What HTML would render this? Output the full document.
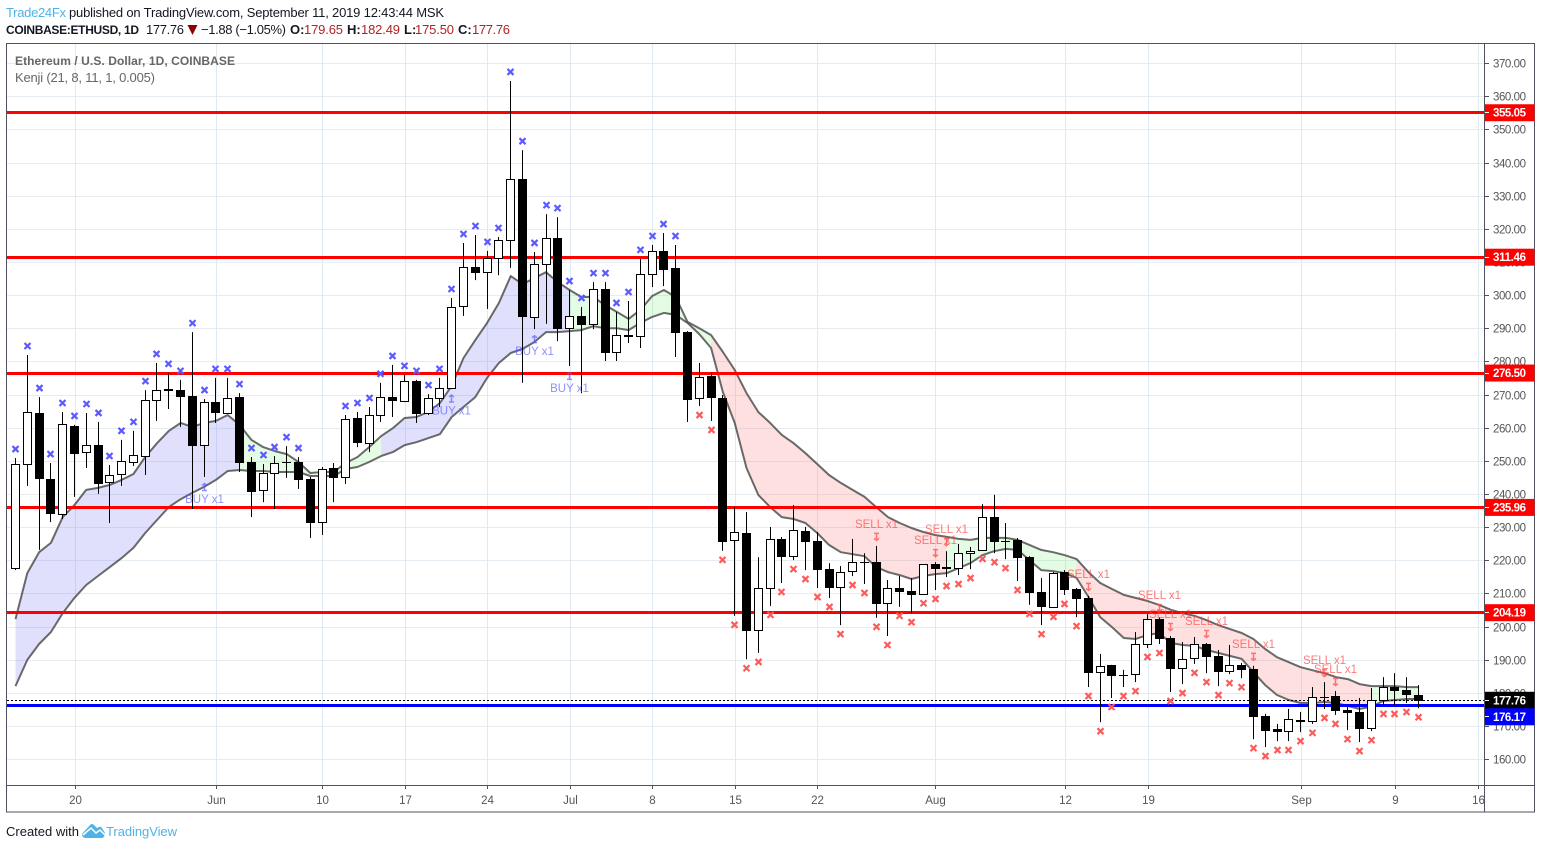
<!DOCTYPE html>
<html lang="en">
<head>
<meta charset="utf-8">
<title>ETHUSD chart</title>
<style>
html,body{margin:0;padding:0;background:#fff;width:1541px;height:849px;overflow:hidden}
svg{display:block;font-family:"Liberation Sans",sans-serif}
</style>
</head>
<body>
<svg id="chart" width="1541" height="849" viewBox="0 0 1541 849" xmlns="http://www.w3.org/2000/svg">
  <rect x="0" y="0" width="1541" height="849" fill="#fff"/>
  <g font-size="13" fill="#131722">
    <text x="6" y="17" fill="#4fb3e6" textLength="60">Trade24Fx</text>
    <text x="69" y="17" textLength="375">published on TradingView.com, September 11, 2019 12:43:44 MSK</text>
  </g>
  <g font-size="13" fill="#131722">
    <text x="6" y="34" font-size="12" font-weight="bold" textLength="133">COINBASE:ETHUSD, 1D</text>
    <text x="146" y="34" textLength="38">177.76</text>
    <polygon points="187.5,25 197.5,25 192.5,35" fill="#8b0000"/>
    <text x="201" y="34" textLength="85">−1.88 (−1.05%)</text>
    <text x="290" y="34" font-weight="bold">O:</text>
    <text x="304" y="34" fill="#b22222" textLength="39">179.65</text>
    <text x="347" y="34" font-weight="bold">H:</text>
    <text x="361" y="34" fill="#b22222" textLength="39">182.49</text>
    <text x="404" y="34" font-weight="bold">L:</text>
    <text x="415" y="34" fill="#b22222" textLength="39">175.50</text>
    <text x="458" y="34" font-weight="bold">C:</text>
    <text x="472" y="34" fill="#b22222" textLength="38">177.76</text>
  </g>
  <g id="grid"></g>
  <g id="band"></g>
  <g id="levels"></g>
  <g id="candles"></g>
  <g id="marks"></g>
  <g id="notes"></g>
  <g fill="#666">
    <text x="15" y="65" font-size="12" font-weight="bold" textLength="220">Ethereum / U.S. Dollar, 1D, COINBASE</text>
    <text x="15" y="82" font-size="13" textLength="140">Kenji (21, 8, 11, 1, 0.005)</text>
  </g>
  <g id="axes"></g>
  <rect x="6.5" y="43.5" width="1528" height="768.5" fill="none" stroke="#50535e" stroke-width="1"/>
  <line x1="1484.5" y1="43.5" x2="1484.5" y2="812" stroke="#50535e"/>
  <line x1="6.5" y1="785.5" x2="1534.5" y2="785.5" stroke="#50535e"/>
  <g id="priceLabels"></g>
  <g font-size="13">
    <text x="6" y="836" fill="#131722" textLength="73">Created with</text>
    <g>
      <path d="M82 834 L90 825 Q92 823 94 825 L97 828 L99 827 Q101 826 102 828 L105 833 Q105 838 101 838 L86 838 Q82 838 82 834 Z" fill="#4fb3e6"/>
      <polyline points="83,835 91,828 96,833 100,830 105,835" fill="none" stroke="#fff" stroke-width="1.5"/>
    </g>
    <text x="106" y="836" fill="#4fb3e6" textLength="71">TradingView</text>
  </g>
</svg>
<script>
const opens = [217.8,249.2,264.6,244.7,234.1,260.7,252.8,254.9,243.8,246.2,249.8,251.6,268.5,271.8,271.5,269.7,254.9,267.9,264.6,269.4,
249.8,241.4,246.5,249.8,249.8,244.7,231.7,248.0,245.3,263.1,255.5,264.0,269.4,268.2,274.3,264.6,269.1,272.2,296.9,308.7,
307.1,311.4,316.8,335.2,293.6,309.6,317.4,290.2,293.9,291.5,302.0,283.0,288.1,287.8,306.5,313.5,308.4,289.0,269.1,275.8,
269.1,226.3,228.4,199.1,211.8,226.6,221.4,229.0,226.0,217.5,212.1,216.9,219.6,219.6,207.3,211.8,210.9,209.9,219.0,218.1,
217.8,222.3,223.3,233.2,226.0,226.3,221.1,210.6,206.1,216.6,211.5,208.8,186.4,188.6,185.5,185.8,194.9,202.4,196.7,187.6,
190.6,194.9,191.3,186.7,188.6,187.4,173.2,169.3,168.6,172.0,171.7,178.9,179.2,175.0,174.4,169.5,178.0,181.9,181.0,179.65];
const highs = [251.0,282.1,269.4,249.5,264.9,261.0,264.6,261.9,248.9,256.5,259.2,271.5,279.7,276.7,274.6,289.0,268.8,275.2,275.2,270.6,
251.3,249.2,251.6,254.6,251.3,245.3,248.3,249.5,264.0,264.9,266.4,273.7,279.1,276.1,274.6,270.3,275.2,299.3,315.9,318.3,
313.5,317.7,364.8,343.9,313.2,324.6,323.7,301.7,296.6,304.1,304.1,295.1,298.4,311.1,315.3,318.9,315.3,289.3,279.7,276.7,
270.0,236.2,234.7,221.1,230.2,227.2,236.8,230.2,228.7,219.3,218.4,226.6,222.3,224.5,214.2,215.4,214.8,219.0,219.6,222.9,
225.1,224.2,237.1,239.9,231.4,226.9,221.4,214.8,216.6,217.2,211.8,209.4,191.9,188.6,187.1,198.5,203.9,203.0,197.3,195.5,
197.0,195.2,193.1,194.6,189.2,188.3,173.8,170.8,175.3,174.4,181.9,183.4,180.7,175.9,178.6,181.6,184.9,186.1,184.9,182.49];
const lows = [217.2,242.6,223.3,231.7,232.6,239.3,248.0,240.2,231.4,242.6,248.6,245.9,262.2,265.8,260.4,235.6,245.3,261.6,264.3,246.8,
233.2,237.7,235.6,245.0,241.7,226.9,227.8,237.7,243.2,254.3,252.8,261.9,263.4,267.9,261.6,264.0,266.4,272.0,293.9,304.7,
296.0,306.2,308.4,273.7,289.9,291.5,286.3,278.8,270.6,289.9,280.3,280.3,285.7,284.2,302.6,302.9,281.5,261.9,266.7,262.2,
223.0,203.4,190.3,192.2,206.4,213.3,220.2,217.2,211.8,208.8,200.6,215.4,213.0,202.8,197.3,206.1,204.2,209.9,211.2,215.1,
215.7,217.5,223.3,222.3,220.5,213.9,206.7,200.6,205.8,209.7,203.0,181.9,171.3,178.6,181.9,183.4,193.7,194.9,180.4,182.8,
188.9,186.1,182.2,185.8,184.6,166.2,163.8,165.6,165.6,168.3,170.8,175.3,173.5,168.9,165.3,168.6,176.5,176.5,177.1,175.50];
const closes = [249.2,264.9,244.7,234.1,261.3,252.2,254.9,243.2,245.9,250.1,251.9,268.5,271.5,271.2,269.4,254.6,267.9,264.6,269.1,249.5,
240.8,246.5,249.5,249.6,244.4,231.4,247.7,245.0,262.8,255.5,264.0,269.4,268.2,274.3,264.3,269.1,272.2,296.6,308.7,306.8,
311.4,316.8,335.2,293.6,309.6,317.4,289.9,293.9,291.2,302.0,282.7,288.1,287.5,306.5,313.5,307.7,288.7,268.5,275.5,269.1,
225.7,228.7,198.8,211.8,226.6,221.1,229.3,225.7,217.2,211.8,216.6,219.6,219.5,207.0,211.8,210.6,209.7,219.0,217.5,217.5,
222.3,222.9,233.2,225.7,225.9,220.8,210.3,206.1,216.3,211.2,208.5,186.1,188.3,185.2,185.4,194.9,202.4,196.4,187.3,190.3,
194.9,191.0,186.4,188.6,187.1,172.9,168.6,168.3,172.3,171.4,178.9,178.8,174.7,174.2,169.2,178.0,181.9,180.7,179.5,177.76];
const bandUpper = [202.4,216.3,222.6,225.4,233.2,236.8,241.4,242.0,242.9,244.4,246.2,251.3,255.5,259.2,261.6,260.4,261.6,262.2,264.0,261.0,
256.5,254.3,253.1,252.2,249.8,246.5,246.8,246.8,249.5,251.3,254.3,257.6,260.0,263.1,263.4,264.9,267.6,272.8,281.2,286.6,
291.8,297.8,305.9,303.5,305.3,307.1,304.1,301.7,299.6,299.6,297.2,295.1,293.0,295.7,299.9,301.7,299.6,292.1,290.2,288.1,
283.0,277.6,270.6,264.9,261.6,258.0,255.5,252.5,249.2,245.9,243.5,241.4,239.3,236.2,233.2,231.4,229.9,228.7,227.8,227.2,
226.6,226.3,226.9,226.9,226.9,226.3,224.8,223.3,222.6,221.7,220.5,216.6,213.3,211.5,209.7,208.8,207.9,206.7,205.2,204.2,
203.4,202.1,200.6,199.4,198.2,196.4,193.4,190.9,189.4,187.9,187.0,186.1,184.9,184.3,182.8,182.2,182.2,182.2,181.9,181.9];
const bandLower = [182.2,190.1,194.9,198.5,204.2,208.8,212.7,215.4,218.1,220.8,223.9,228.4,232.3,236.2,238.6,240.5,242.3,244.4,247.1,247.4,
247.1,247.1,246.8,246.8,246.8,245.6,245.6,245.6,247.7,248.3,249.8,251.6,252.8,254.9,255.8,257.0,258.2,263.4,266.4,269.4,
275.2,279.7,282.7,283.9,286.0,289.0,289.0,289.3,289.6,290.8,290.2,290.2,289.6,291.8,293.6,294.8,294.2,291.8,288.4,284.2,
270.9,261.6,248.0,239.9,236.2,233.2,232.6,231.4,228.4,224.8,222.6,222.0,221.4,218.1,216.6,215.7,214.5,215.4,216.0,216.3,
217.8,219.3,221.7,222.9,223.6,223.3,220.2,217.2,216.9,216.3,214.8,209.1,203.0,200.0,196.7,196.4,197.6,198.2,195.2,194.6,
194.3,193.1,192.2,191.3,190.4,186.4,182.5,179.5,178.0,177.1,177.1,177.4,177.1,176.2,175.3,175.9,177.7,178.0,178.3,178.3];
const bandRunStarts = [0,19,31,47,59,79,90,115];
const bandRunEnds = [19,31,47,59,79,90,115,119];
const bandRunStates = ['up','flat','up','flat','down','flat','down','flat'];
const resistanceLevels = [355.05,311.46,276.50,235.96,204.19];
const supportLevel = 176.17;
const lastPrice = 177.76;
const yTickValues = [160,170,180,190,200,210,220,230,240,250,260,270,280,290,300,310,320,330,340,350,360,370];
const xTickBars = [5,17,26,33,40,47,54,61,68,78,89,96,109,117,124];
const xTickLabels = ['20','Jun','10','17','24','Jul','8','15','22','Aug','12','19','Sep','9','16'];
const buyBars = [16,37,44,47];
const sellBars = [73,78,79,91,97,98,101,105,111,112];
const lastBuyMarkBar = 56;
const firstSellMarkBar = 58;
const unmarkedBars = [25,26,27];

const NS = 'http://www.w3.org/2000/svg';
function x(i){return 15.5 + 11.79 * i;}
function y(p){return 63.7 + (370 - p) * 3.314;}
function snap(v){return Math.floor(v) + 0.5;}
function el(tag, attrs, parent, text){
  const n = document.createElementNS(NS, tag);
  for (const k in attrs) n.setAttribute(k, attrs[k]);
  if (text !== undefined) n.textContent = text;
  parent.appendChild(n);
  return n;
}
const gGrid = document.getElementById('grid');
const gBand = document.getElementById('band');
const gLevels = document.getElementById('levels');
const gCandles = document.getElementById('candles');
const gMarks = document.getElementById('marks');
const gNotes = document.getElementById('notes');
const gAxes = document.getElementById('axes');
const gLabels = document.getElementById('priceLabels');

yTickValues.forEach(function(v){
  const py = snap(y(v));
  const g = el('line', {x1:7, x2:1484, y1:py, y2:py, stroke:'#e6edf2'}, gGrid);
  
  
  const t = el('line', {x1:1485, x2:1489, y1:py, y2:py, stroke:'#50535e'}, gAxes);
  
  
  const l = el('text', {x:1493, y:py + 4, 'font-size':11.5, fill:'#555', textLength:33}, gAxes, v.toFixed(2));
  
  
});
xTickBars.forEach(function(b, k){
  const px = snap(x(b) + 0.7);
  const g = el('line', {x1:px, x2:px, y1:44, y2:785, stroke:'#e0eaf2'}, gGrid);
  
  
  const t = el('line', {x1:px, x2:px, y1:785, y2:789, stroke:'#50535e'}, gAxes);
  
  
  const l = el('text', {x:px, y:804, 'font-size':11.5, fill:'#555', 'text-anchor':'middle'}, gAxes, xTickLabels[k]);
  
  
});

const bandFill = {up:'rgba(100,100,245,.2)', flat:'rgba(100,240,100,.18)', down:'rgba(255,100,100,.2)'};
bandRunStarts.forEach(function(start, r){
  const end = bandRunEnds[r];
  let top = [], bottom = [];
  for (let i = start; i <= end; i++){
    top.push(x(i).toFixed(1) + ',' + y(bandUpper[i]).toFixed(1));
    bottom.unshift(x(i).toFixed(1) + ',' + y(bandLower[i]).toFixed(1));
  }
  const f = el('polygon', {points:top.concat(bottom).join(' '), fill:bandFill[bandRunStates[r]]}, gBand);
  
  
});
function bandLine(series, name){
  const pts = series.map(function(v, i){return x(i).toFixed(1) + ',' + y(v).toFixed(1);}).join(' ');
  const p = el('polyline', {points:pts, fill:'none', stroke:'rgba(70,70,70,.8)', 'stroke-width':2, 'stroke-linejoin':'round'}, gBand);
  
  
}
bandLine(bandUpper, 'band-upper-line');
bandLine(bandLower, 'band-lower-line');

resistanceLevels.forEach(function(v){
  const r = el('rect', {x:7, y:Math.round(y(v) - 2), width:1477, height:3, fill:'#ff0000'}, gLevels);
  
  
});
const sup = el('rect', {x:7, y:Math.round(y(supportLevel) - 2), width:1477, height:3, fill:'#0000ff'}, gLevels);


const lastLine = el('line', {x1:7, x2:1484, y1:snap(y(lastPrice)), y2:snap(y(lastPrice)), stroke:'#000', 'stroke-dasharray':'2 2'}, gLevels);



opens.forEach(function(o, i){
  const c = snap(x(i));
  const bull = closes[i] >= o;
  const topY = Math.round(y(Math.max(o, closes[i])));
  const botY = Math.round(y(Math.min(o, closes[i])));
  const w = el('rect', {x:c - 0.5, y:y(highs[i]), width:1, height:y(lows[i]) - y(highs[i]), fill:'#000'}, gCandles);
  
  
  let b;
  if (bull) {
    b = el('rect', {x:c - 4, y:topY + 0.5, width:8, height:Math.max(botY - topY, 1), fill:'#fff', stroke:'#000', 'stroke-width':1}, gCandles);
  } else {
    b = el('rect', {x:c - 4.5, y:topY, width:9, height:Math.max(botY - topY, 1), fill:'#000'}, gCandles);
  }
  
  
  let my = null, col = null;
  if (unmarkedBars.indexOf(i) >= 0) { my = null; }
  else if (i <= lastBuyMarkBar) { my = y(highs[i]) - 9; col = '#5a5aff'; }
  else if (i >= firstSellMarkBar) { my = y(lows[i]) + 9; col = '#ff5a5a'; }
  if (my !== null) {
    const d = 3;
    const m = el('path', {d:'M' + (c - d) + ' ' + (my - d) + 'L' + (c + d) + ' ' + (my + d) + 'M' + (c + d) + ' ' + (my - d) + 'L' + (c - d) + ' ' + (my + d), stroke:col, 'stroke-width':2.2, fill:'none'}, gMarks);
    
    
  }
});

function note(bar, isBuy){
  const c = snap(x(bar));
  const col = isBuy ? 'rgba(90,90,255,.68)' : 'rgba(255,70,70,.72)';
  const gy = isBuy ? y(lows[bar]) + 10 : y(highs[bar]) - 9;
  const ty = isBuy ? y(lows[bar]) + 26 : y(highs[bar]) - 18;
  const dir = isBuy ? -1 : 1;
  const a = el('path', {d:'M' + (c - 2.5) + ' ' + (gy - dir * 3.5) + 'H' + (c + 2.5) + 'M' + c + ' ' + (gy - dir * 3.5) + 'V' + (gy + dir * 3.5) + 'M' + (c - 2.5) + ' ' + (gy + dir * 1.5) + 'L' + c + ' ' + (gy + dir * 3.5) + 'L' + (c + 2.5) + ' ' + (gy + dir * 1.5), stroke:col, 'stroke-width':1.5, fill:'none'}, gNotes);
  
  
  const t = el('text', {x:c, y:ty, 'font-size':11.5, fill:col, 'text-anchor':'middle'}, gNotes, isBuy ? 'BUY x1' : 'SELL x1');
  
  
}
buyBars.forEach(function(b){note(b, true);});
sellBars.forEach(function(b){note(b, false);});

function priceTag(value, centerY, fill){
  const r = el('rect', {x:1485, y:centerY - 8.5, width:49.5, height:17, fill:fill}, gLabels);
  
  
  const k = el('line', {x1:1485, x2:1489, y1:Math.floor(centerY) + 0.5, y2:Math.floor(centerY) + 0.5, stroke:'#fff'}, gLabels);
  
  
  const t = el('text', {x:1493, y:centerY + 4, 'font-size':11.5, 'font-weight':'bold', fill:'#fff', textLength:33}, gLabels, value.toFixed(2));
  
  
}
resistanceLevels.forEach(function(v){priceTag(v, y(v) - 0.5, '#ff0000');});
const lastTagY = y(lastPrice) - 0.5;
priceTag(lastPrice, lastTagY, '#000000');
priceTag(supportLevel, Math.max(y(supportLevel), lastTagY + 16.5), '#0000ff');
</script>
</body>
</html>
